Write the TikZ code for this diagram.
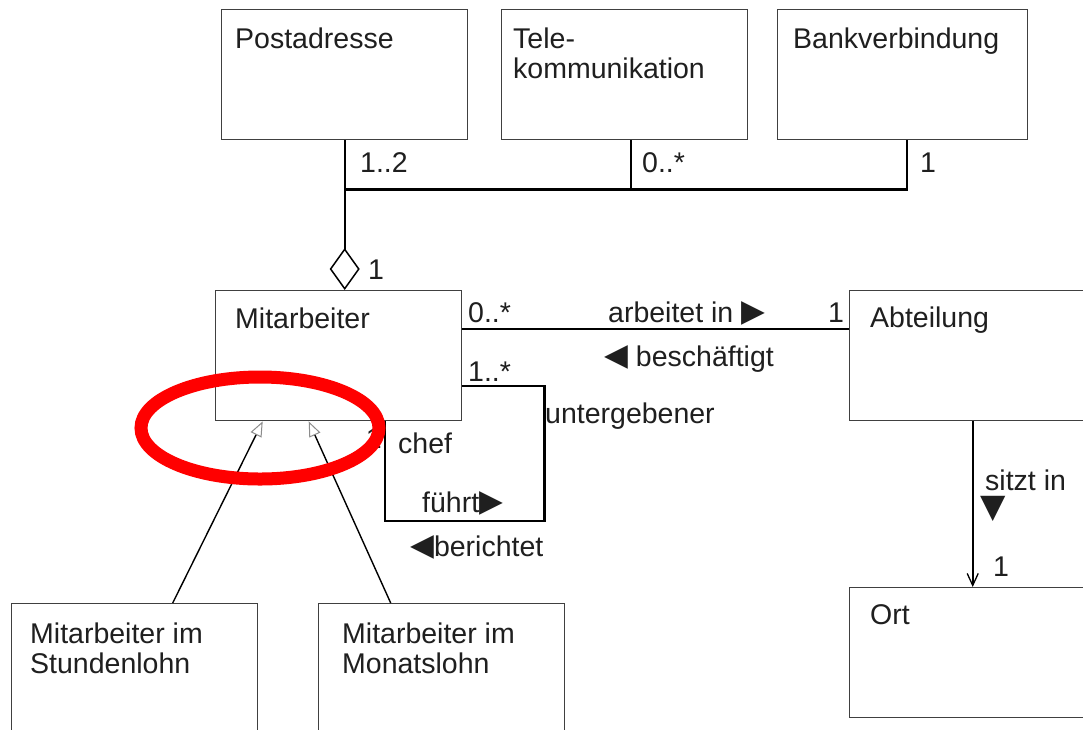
\documentclass[tikz,border=0pt]{standalone}
\usepackage{fontspec}
\setmainfont{Liberation Sans}
\newfontfamily\symfont{DejaVu Sans}
\usetikzlibrary{arrows.meta,calc}

\newcommand{\tri}[1]{{\symfont\fontsize{31}{31}\selectfont\raisebox{0.5pt}{#1}}}

\begin{document}
\begin{tikzpicture}[x=1pt,y=-1pt,
  every node/.append style={font=\fontsize{28.5}{30}\selectfont, text=black!88},
  cls/.style={draw=black!75, line width=1.4pt, anchor=north west,
    minimum width=246pt, minimum height=130pt, inner sep=0pt},
  clsname/.style={anchor=north west, inner sep=0pt, align=left},
  lbl/.style={anchor=base west, inner sep=0pt},
  assoc/.style={line width=2.4pt, black},
  gen/.style={line width=1.4pt, black,
    -{Triangle[open, length=15pt, width=12pt, line width=1pt, color=black!45, fill=white]}},
  nav/.style={line width=2pt, black,
    -{Straight Barb[length=12pt, width=11pt, line width=1.3pt]}},
  aggr/.style={line width=2.4pt, black,
    -{Diamond[open, length=42pt, width=30pt, line width=1.5pt, fill=white]}}]

\fill[white] (0,0) rectangle (1083,729);
\useasboundingbox (0,0) rectangle (1083,729);
\clip (0,0) rectangle (1083,729);

% classes
\node[cls] (post) at (221,9) {};
\node[cls] (tele) at (501,9) {};
\node[cls, minimum width=250pt] (bank) at (777,9) {};
\node[cls] (mit) at (215,290) {};
\node[cls] (abt) at (849,290) {};
\node[cls] (ort) at (849,587) {};
\node[cls, minimum height=140pt] (std) at (11,603) {};
\node[cls, minimum height=140pt] (mon) at (318,603) {};

\node[clsname] at (235,27.5) {Postadresse};
\node[clsname] at (513,27.5) {Tele-\\kommunikation};
\node[clsname] at (793,27.5) {Bankverbindung};
\node[clsname] at (235,307.5) {Mitarbeiter};
\node[clsname] at (870,306.5) {Abteilung};
\node[clsname] at (870,604.5) {Ort};
\node[clsname] at (30,622.5) {Mitarbeiter im\\Stundenlohn};
\node[clsname] at (342,622.5) {Mitarbeiter im\\Monatslohn};

% aggregation of the contact data
\coordinate (busL) at ($(post.south)+(0,49)$);
\draw[assoc] ([xshift=6pt]tele.south) |- (busL);
\draw[assoc] ([xshift=4pt]bank.south) |- (busL);
\draw[aggr] (post.south) -- (post.south |- mit.north);

\node[lbl] at (360,172) {1..2};
\node[lbl] at (642,172) {0..*};
\node[lbl] at (920,172) {1};
\node[lbl] at (368,279) {1};

% Mitarbeiter -- Abteilung
\draw[assoc] ([yshift=-39pt]mit.north east) -- ([yshift=-39pt]abt.north west);
\node[lbl] at (468,322) {0..*};
\node[lbl] at (608,322) {arbeitet in \tri{▶}};
\node[lbl] at (828,322) {1};
\node[lbl] at (604,366) {\tri{◀} beschäftigt};

% reflexive association
\draw[assoc] ([yshift=-96pt]mit.north east) -| ++(82,135) -| ([xshift=46pt]mit.south);
\node[lbl] at (468,381) {1..*};
\node[lbl] at (545,423) {untergebener};
\node[anchor=base east, inner sep=0pt] at (382,448) {1};
\node[lbl] at (398,453) {chef};
\node[lbl] at (422,512) {führt\tri{▶}};
\node[lbl] at (410,556) {\tri{◀}berichtet};

% Abteilung -> Ort
\draw[nav] (abt.south) -- (ort.north);
\node[lbl] at (985,490) {sitzt in};
\node[lbl] at (980,517) {{\symfont\fontsize{33}{33}\selectfont ▼}};
\node[lbl] at (993,576) {1};

% generalisation
\draw[gen] ([xshift=38pt]std.north) -- ([xshift=-76pt]mit.south);
\draw[gen] ([xshift=-51pt]mon.north) -- ([xshift=-30pt]mit.south);

% highlight
\draw[red, line width=13pt] (260,428) ellipse [x radius=119, y radius=51];
\end{tikzpicture}
\end{document}
